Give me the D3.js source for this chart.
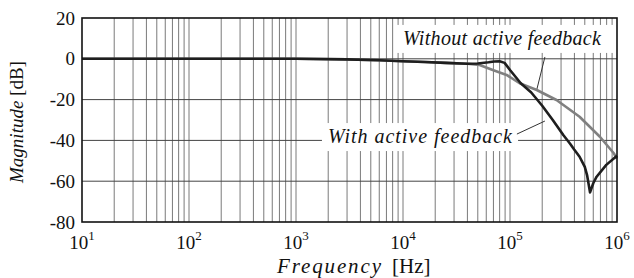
<!DOCTYPE html>
<html><head><meta charset="utf-8">
<script src="https://cdn.jsdelivr.net/npm/d3@7"></script>
<style>body{margin:0;background:#fff}svg{display:block}</style>
</head><body>
<script>
// ---- data ----
const yTicks = [20, 0, -20, -40, -60, -80];
const xDecades = [1, 2, 3, 4, 5, 6];
const withFreq = [10, 100, 1000, 3000, 6000, 10000, 16000, 25000, 40000, 50000, 63000, 71000, 80000, 89000, 100000, 126000, 158000, 200000, 251000, 316000, 363000, 398000, 447000, 500000, 525000, 560000, 600000, 645000, 794000, 1000000];
const withDb   = [0, 0, 0, -0.3, -0.7, -1.2, -1.6, -2.0, -2.4, -2.3, -1.7, -1.3, -1.2, -2.0, -5.5, -12, -16.5, -23, -30, -37.5, -41.5, -44.5, -48, -53, -57, -65.5, -61, -57.8, -52, -47.5];
const withoutFreq = [10, 100, 1000, 3000, 6000, 10000, 16000, 25000, 40000, 52000, 69000, 93000, 123000, 178000, 272000, 447000, 692000, 933000, 1000000];
const withoutDb   = [0, 0, 0, -0.3, -0.7, -1.2, -1.6, -2.0, -2.4, -3.0, -5.5, -7.9, -12, -15.3, -20.2, -28.4, -38.2, -46.3, -49];
const labelTexts = ["Without active feedback", "With active feedback"];

// ---- layout ----
const W = 634, H = 278;
const FONT = "'Liberation Serif', 'DejaVu Serif', serif";
const m = {l: 82, r: 17, t: 18, b: 56};
const svg = d3.select("body").append("svg").attr("width", W).attr("height", H);
const x = d3.scaleLog().domain([10, 1e6]).range([m.l, W - m.r]);
const y = d3.scaleLinear().domain([-80, 20]).range([H - m.b, m.t]);

// annotation placement (in data units)
const annot = [
  {f: 84100, db: 6.8, len: 198, padL: 7, padR: 17, from: [212000, 0.9], to: [178600, -14.8]},
  {f: 14400, db: -41.3, len: 184, padL: 6, padR: 5, from: [116000, -36.9], to: [212000, -30.5]}
];

// vertical grid (1..9 per decade)
const gridX = [];
for (let d = 1; d < 6; d++) for (let k = 1; k < 10; k++) gridX.push(k * Math.pow(10, d));
svg.append("g").selectAll("line").data(gridX.filter(v => v > 10)).join("line")
  .attr("x1", d => x(d)).attr("x2", d => x(d)).attr("y1", y(20)).attr("y2", y(-80))
  .attr("stroke", "#7a7a7a").attr("stroke-width", 1);
svg.append("g").selectAll("line").data(yTicks.filter(v => v > -80 && v < 20)).join("line")
  .attr("x1", x(10)).attr("x2", x(1e6)).attr("y1", d => y(d)).attr("y2", d => y(d))
  .attr("stroke", "#444").attr("stroke-width", 1);

// label boxes
const lab = svg.append("g");
labelTexts.forEach((txt, i) => {
  const A = annot[i];
  const t = lab.append("text").attr("x", x(A.f)).attr("y", y(A.db)).attr("text-anchor", "middle")
    .attr("font-family", FONT).attr("font-size", 20).attr("font-style", "italic").attr("fill", "#111")
    .attr("textLength", A.len).attr("lengthAdjust", "spacing").text(txt);
  const bb = t.node().getBBox();
  lab.insert("rect", "text").attr("x", bb.x - A.padL).attr("y", bb.y - 2)
    .attr("width", bb.width + A.padL + A.padR).attr("height", bb.height + 5).attr("fill", "#fff");
  lab.append("line").attr("x1", x(A.from[0])).attr("y1", y(A.from[1])).attr("x2", x(A.to[0])).attr("y2", y(A.to[1]))
    .attr("stroke", "#333").attr("stroke-width", 1);
});

// curves
const line = d3.line().x(d => x(d[0])).y(d => y(d[1]));
svg.append("path").datum(d3.zip(withoutFreq, withoutDb)).attr("d", line)
  .attr("fill", "none").attr("stroke", "#808080").attr("stroke-width", 2.6).attr("stroke-linejoin", "round");
svg.append("path").datum(d3.zip(withFreq, withDb)).attr("d", line)
  .attr("fill", "none").attr("stroke", "#1e1e1e").attr("stroke-width", 2.6).attr("stroke-linejoin", "round");

// frame
svg.append("rect").attr("x", x(10)).attr("y", y(20)).attr("width", x(1e6) - x(10)).attr("height", y(-80) - y(20))
  .attr("fill", "none").attr("stroke", "#111").attr("stroke-width", 1.6);

// y tick labels
svg.append("g").selectAll("text").data(yTicks).join("text")
  .attr("x", m.l - 7).attr("y", d => y(d)).attr("dy", "0.35em").attr("text-anchor", "end")
  .attr("font-family", FONT).attr("font-size", 19).attr("fill", "#111").text(d => d);

// x tick labels
const xt = svg.append("g").selectAll("text").data(xDecades).join("text")
  .attr("x", d => x(Math.pow(10, d))).attr("y", H - 29).attr("text-anchor", "middle")
  .attr("font-family", FONT).attr("font-size", 19).attr("fill", "#111");
xt.append("tspan").text("10");
xt.append("tspan").attr("dy", -9).attr("font-size", 13).text(d => d);

// axis titles
svg.append("text").attr("x", 381).attr("y", H - 5).attr("text-anchor", "end")
  .attr("font-family", FONT).attr("font-size", 21).attr("font-style", "italic").attr("fill", "#111")
  .attr("textLength", 104).attr("lengthAdjust", "spacing").text("Frequency");
svg.append("text").attr("x", 392).attr("y", H - 5).attr("text-anchor", "start")
  .attr("font-family", FONT).attr("font-size", 21).attr("fill", "#111").text("[Hz]");
const ytitle = svg.append("text").attr("transform", `translate(23,${(y(20) + y(-80)) / 2 + 2}) rotate(-90)`)
  .attr("text-anchor", "middle").attr("font-family", FONT).attr("font-size", 19).attr("fill", "#111");
ytitle.append("tspan").attr("font-style", "italic").text("Magnitude");
ytitle.append("tspan").text(" [dB]");
</script>
</body></html>
